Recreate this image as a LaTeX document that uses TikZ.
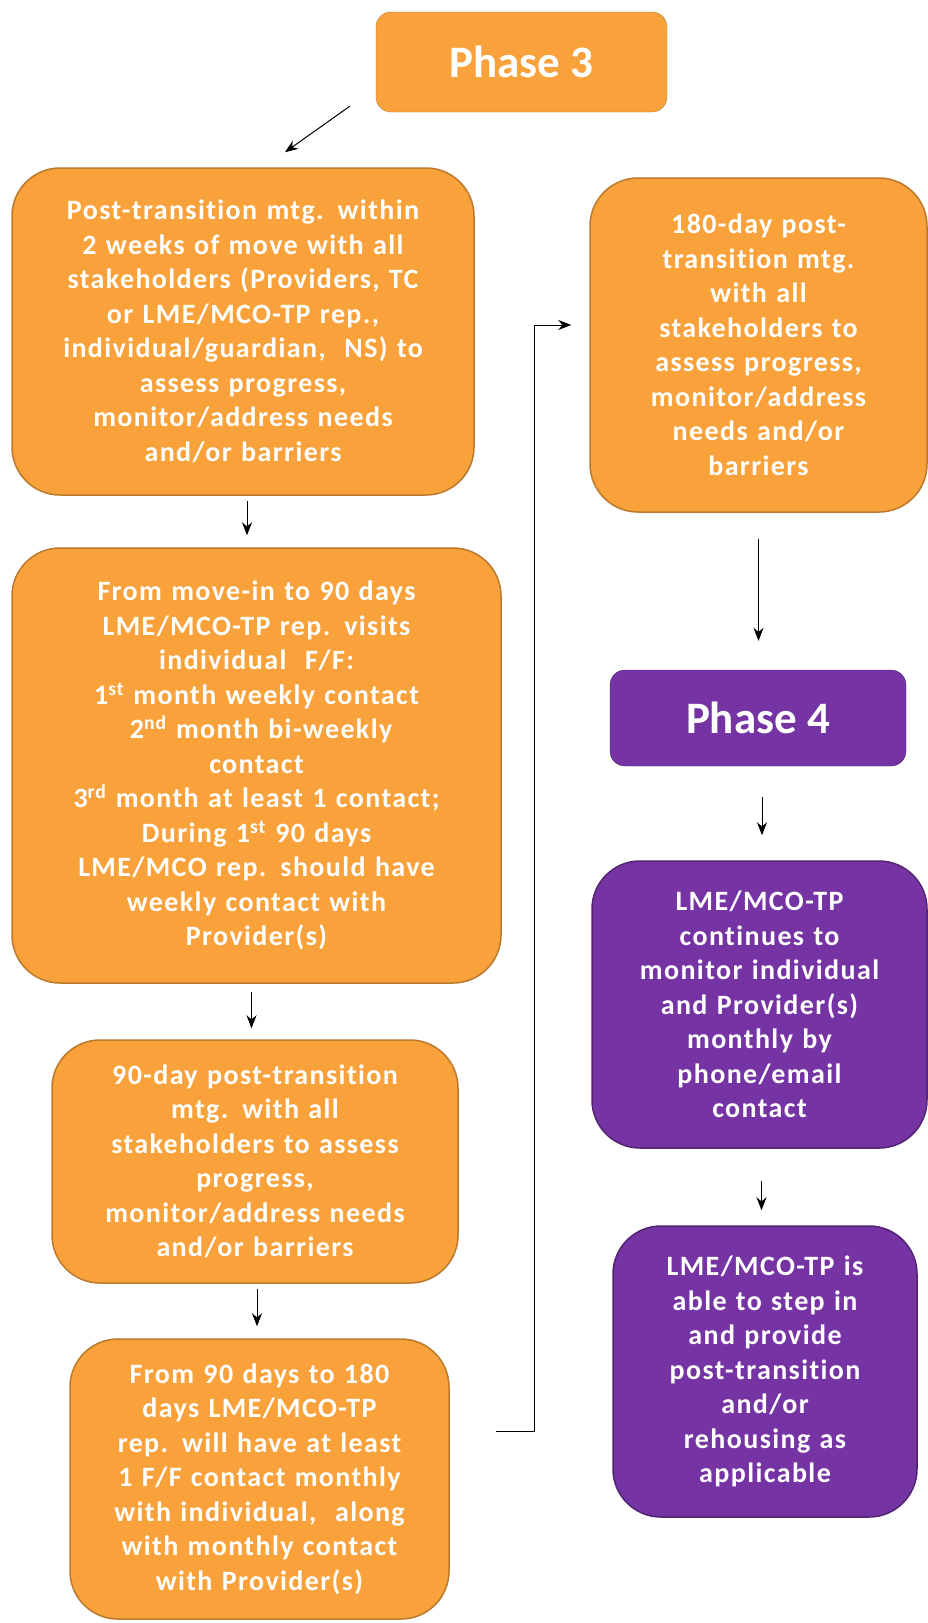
\documentclass[tikz,border=0pt]{standalone}
\usepackage{fontspec}
\usepackage{tikz}
\usetikzlibrary{arrows, arrows.meta, positioning}
\newfontfamily\boxfont[LetterSpace=5, Ligatures={NoCommon}]{Carlito}
\newfontfamily\phasefont{Carlito}
\definecolor{phaseorange}{HTML}{F9A23B}
\definecolor{phasepurple}{HTML}{7533A3}

\begin{document}
\begin{tikzpicture}[x=1pt, y=-1pt]
\tikzstyle{phaseLabel} = [rectangle, rounded corners=15pt, inner sep=0pt, text=white, font=\phasefont\bfseries\fontsize{45}{54}\selectfont]
\tikzstyle{stepBox} = [rectangle, rounded corners=48pt, inner sep=0pt, align=center, text=white, line width=1.5pt, font=\boxfont\bfseries\fontsize{28}{34.5}\selectfont]
\tikzstyle{orangeFill} = [fill=phaseorange, draw=phaseorange!75!black]
\tikzstyle{purpleFill} = [fill=phasepurple, draw=phasepurple!70!black]
\tikzstyle{flow} = [-{Stealth[length=13pt, width=10pt]}, line width=1pt]

\useasboundingbox (0,0) rectangle (927,1623);

\node (phase3) [phaseLabel, orangeFill, minimum width=291pt, minimum height=100pt] at (521.5,62) {Phase 3};
\node (post) [stepBox, orangeFill, minimum width=462pt, minimum height=327pt, text width=440pt] at (243,331.5) {Post-transition mtg. within\\2 weeks of move with all\\stakeholders (Providers, TC\\or LME/MCO-TP rep.,\\individual/guardian,\ \ NS) to\\assess progress,\\monitor/address needs\\and/or barriers};
\node (moveIn) [stepBox, orangeFill, minimum width=489pt, minimum height=435pt, text width=465pt] at (256.5,765.5) {From move-in to 90 days\\LME/MCO-TP rep. visits\\individual\ \ F/F:\\1\textsuperscript{st} month weekly contact\\\ 2\textsuperscript{nd} month bi-weekly\\contact\\3\textsuperscript{rd} month at least 1 contact;\\During 1\textsuperscript{st} 90 days\\LME/MCO rep. should have\\weekly contact with\\Provider(s)};
\node (day90) [stepBox, orangeFill, minimum width=406pt, minimum height=243pt, text width=390pt] at (255,1161.5) {90-day post-transition\\mtg. with all\\stakeholders to assess\\progress,\\monitor/address needs\\and/or barriers};
\node (day90to180) [stepBox, orangeFill, minimum width=379pt, minimum height=280pt, text width=365pt] at (259.5,1479) {From 90 days to 180\\days LME/MCO-TP\\rep. will have at least\\1 F/F contact monthly\\with individual,\ \ along\\with monthly contact\\with Provider(s)};
\node (day180) [stepBox, orangeFill, minimum width=337pt, minimum height=334pt, text width=320pt] at (758.5,345) {180-day post-\\transition mtg.\\with all\\stakeholders to\\assess progress,\\monitor/address\\needs and/or\\barriers};
\node (phase4) [phaseLabel, purpleFill, minimum width=296pt, minimum height=96pt] at (758,718) {Phase 4};
\node (monitor) [stepBox, purpleFill, minimum width=335pt, minimum height=287pt, text width=320pt] at (759.5,1004.5) {LME/MCO-TP\\continues to\\monitor individual\\and Provider(s)\\monthly by\\phone/email\\contact};
\node (stepIn) [stepBox, purpleFill, minimum width=304pt, minimum height=291pt, text width=290pt] at (765,1371.5) {LME/MCO-TP is\\able to step in\\and provide\\post-transition\\and/or\\rehousing as\\applicable};

\draw[flow] ([xshift=-26pt, yshift=6pt]phase3.south west) -- ([xshift=42pt, yshift=15pt]post.north);
\draw[flow, shorten <=5pt, shorten >=12pt] ([xshift=4pt]post.south) -- ([xshift=4pt]post.south |- moveIn.north);
\draw[flow, shorten <=8pt, shorten >=11pt] ([xshift=-5pt]moveIn.south) -- ([xshift=-5pt]moveIn.south |- day90.north);
\draw[flow, shorten <=5pt, shorten >=12pt] ([xshift=2pt]day90.south) -- ([xshift=2pt]day90.south |- day90to180.north);
\draw[flow] ([xshift=46pt, yshift=48pt]day90to180.east) -- ++(39,0) |- ([xshift=-18pt, yshift=20pt]day180.west);
\draw[flow, shorten <=26pt, shorten >=29pt] (day180.south) -- (day180.south |- phase4.north);
\draw[flow, shorten <=31pt, shorten >=25pt] ([xshift=4pt]phase4.south) -- ([xshift=4pt]phase4.south |- monitor.north);
\draw[flow, shorten <=32pt, shorten >=15pt] ([xshift=2pt]monitor.south) -- ([xshift=2pt]monitor.south |- stepIn.north);

\end{tikzpicture}
\end{document}
